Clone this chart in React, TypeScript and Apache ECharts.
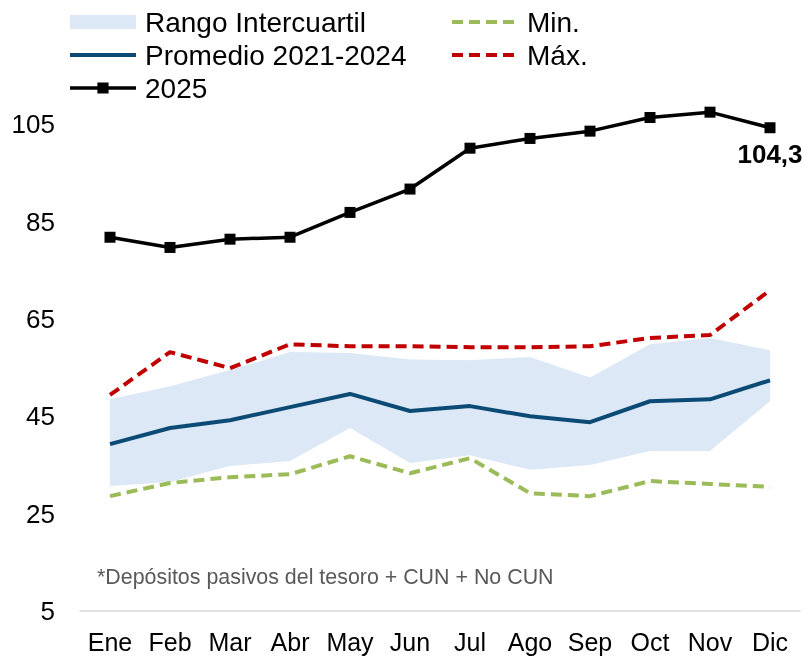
import React, { useEffect, useRef } from "react";
import * as echarts from "echarts";

const months = ["Ene", "Feb", "Mar", "Abr", "May", "Jun", "Jul", "Ago", "Sep", "Oct", "Nov", "Dic"];
const iqrLow = [30.7, 31.5, 34.8, 35.8, 42.6, 35.4, 37.0, 34.0, 35.0, 37.9, 37.9, 48.1];
const iqrHigh = [48.5, 51.2, 54.5, 58.2, 58.0, 56.7, 56.5, 57.2, 53.0, 59.8, 61.1, 58.6];
const promedio = [39.3, 42.6, 44.2, 46.9, 49.6, 46.1, 47.1, 45.0, 43.8, 48.1, 48.5, 52.4];
const minVals = [28.6, 31.3, 32.5, 33.1, 36.8, 33.3, 36.4, 29.2, 28.6, 31.7, 31.1, 30.5];
const maxVals = [49.4, 58.2, 54.9, 59.8, 59.4, 59.4, 59.2, 59.2, 59.4, 61.1, 61.7, 70.9];
const y2025 = [81.8, 79.7, 81.4, 81.8, 86.9, 91.7, 100.1, 102.1, 103.6, 106.4, 107.5, 104.3];
const footnote = "*Depósitos pasivos del tesoro + CUN + No CUN";

const FONT = "Liberation Sans, Arial, sans-serif";

export default function App() {
  const ref = useRef<HTMLDivElement>(null);
  useEffect(() => {
    if (!ref.current) return;
    const chart = echarts.init(ref.current, null, { renderer: "svg" });
    const iqrSpan = iqrHigh.map((v, i) => +(v - iqrLow[i]).toFixed(2));
    const legendText = { fontFamily: FONT, fontSize: 28, color: "#000", padding: [0, 0, 0, 4] };
    const noSym = { itemStyle: { opacity: 0 }, lineStyle: { width: 4 } };
    chart.setOption({
      animation: false,
      textStyle: { fontFamily: FONT },
      grid: { left: 80, right: 4, top: 27, bottom: 46 },
      legend: [
        {
          orient: "vertical",
          left: 68,
          top: 8,
          padding: 0,
          itemWidth: 66,
          itemHeight: 14,
          itemGap: 5,
          textStyle: legendText,
          data: [
            { name: "Rango Intercuartil", icon: "rect" },
            { name: "Promedio 2021-2024", ...noSym },
            { name: "2025", lineStyle: { width: 3.5 } },
          ],
        },
        {
          orient: "vertical",
          left: 450,
          top: 8,
          padding: 0,
          itemWidth: 66,
          itemHeight: 14,
          itemGap: 5,
          textStyle: legendText,
          data: [
            { name: "Min.", ...noSym },
            { name: "Máx.", ...noSym },
          ],
        },
      ],
      xAxis: {
        type: "category",
        data: months,
        boundaryGap: true,
        axisLine: { lineStyle: { color: "#D9D9D9", width: 1.5 } },
        axisTick: { show: false },
        axisLabel: { fontFamily: FONT, fontSize: 25, color: "#000", margin: 18, interval: 0 },
      },
      yAxis: {
        type: "value",
        min: 5,
        max: 125,
        interval: 20,
        splitLine: { show: false },
        axisLine: { show: false },
        axisTick: { show: false },
        axisLabel: { fontFamily: FONT, fontSize: 26, color: "#000", margin: 25, showMaxLabel: false },
      },
      graphic: [
        {
          type: "text",
          left: 97,
          top: 566,
          style: { text: footnote, fontFamily: FONT, fontSize: 21.4, fill: "#595959" },
        },
      ],
      series: [
        {
          name: "bandBase",
          type: "line",
          stack: "band",
          data: iqrLow,
          symbol: "none",
          lineStyle: { width: 0, opacity: 0 },
          silent: true,
        },
        {
          name: "Rango Intercuartil",
          type: "line",
          stack: "band",
          data: iqrSpan,
          symbol: "none",
          lineStyle: { width: 0, opacity: 0 },
          itemStyle: { color: "#DCE8F5" },
          areaStyle: { color: "#DCE8F5", opacity: 1 },
        },
        {
          name: "Promedio 2021-2024",
          type: "line",
          data: promedio,
          symbol: "none",
          itemStyle: { color: "#0B4A75" },
          lineStyle: { color: "#0B4A75", width: 4 },
        },
        {
          name: "Min.",
          type: "line",
          data: minVals,
          symbol: "none",
          itemStyle: { color: "#9BBB59" },
          lineStyle: { color: "#9BBB59", width: 4, type: [11, 6] },
        },
        {
          name: "Máx.",
          type: "line",
          data: maxVals,
          symbol: "none",
          itemStyle: { color: "#C00000" },
          lineStyle: { color: "#C00000", width: 4, type: [11, 6] },
        },
        {
          name: "2025",
          type: "line",
          data: y2025.map((v, i) =>
            i === y2025.length - 1
              ? {
                  value: v,
                  label: {
                    show: true,
                    position: "bottom",
                    distance: 8,
                    formatter: (p: any) => String(p.value).replace(".", ","),
                    fontFamily: FONT,
                    fontSize: 26,
                    fontWeight: "bold",
                    color: "#000",
                  },
                }
              : v
          ),
          symbol: "rect",
          symbolSize: 11,
          itemStyle: { color: "#000" },
          lineStyle: { color: "#000", width: 3.5 },
        },
      ],
    });
    return () => chart.dispose();
  }, []);
  return <div ref={ref} style={{ position: "fixed", left: 0, top: 0, width: 804, height: 657 }} />;
}
